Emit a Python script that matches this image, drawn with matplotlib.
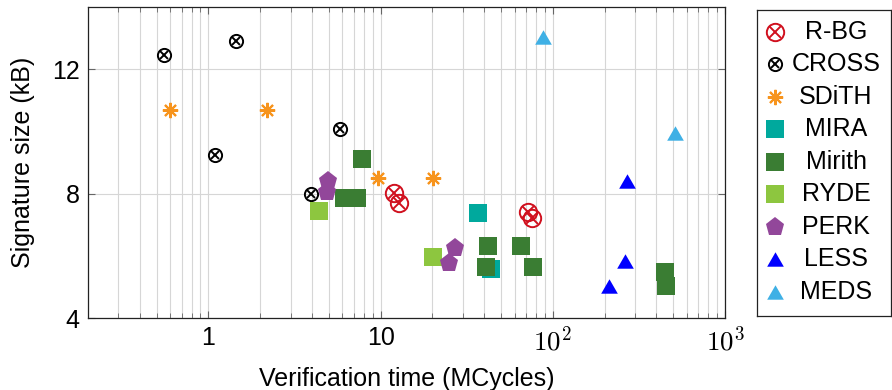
import matplotlib
matplotlib.use("Agg")
import matplotlib.pyplot as plt
from matplotlib.ticker import LogLocator, NullFormatter, FixedLocator
import numpy as np

plt.rcParams['font.family'] = ['Liberation Sans', 'DejaVu Sans']
plt.rcParams['mathtext.fontset'] = 'cm'

# ---- data ----
names = ["R-BG", "CROSS", "SDiTH", "MIRA", "Mirith", "RYDE", "PERK", "LESS", "MEDS"]
rbg_x = [12.0, 12.8, 71.9, 75.3]
rbg_y = [8.01, 7.69, 7.42, 7.21]
cross_x = [0.551, 1.45, 1.098, 5.82, 3.96]
cross_y = [12.47, 12.92, 9.23, 10.07, 7.98]
sdith_x = [0.60, 2.19, 9.71, 20.1]
sdith_y = [10.69, 10.69, 8.50, 8.50]
mira_x = [36.6, 43.7]
mira_y = [7.37, 5.58]
mirith_x = [6.13, 7.3, 7.75, 41.8, 40.9, 65.2, 76.3, 446, 452]
mirith_y = [7.86, 7.86, 9.11, 6.30, 5.65, 6.30, 5.65, 5.49, 5.04]
ryde_x = [4.4, 20.1]
ryde_y = [7.44, 5.95]
perk_x = [4.88, 4.98, 27.0, 25.1]
perk_y = [8.05, 8.39, 6.26, 5.76]
less_x = [270, 261, 212]
less_y = [8.41, 5.84, 5.04]
meds_x = [87.2, 512]
meds_y = [13.04, 9.95]

xs = [rbg_x, cross_x, sdith_x, mira_x, mirith_x, ryde_x, perk_x, less_x, meds_x]
ys = [rbg_y, cross_y, sdith_y, mira_y, mirith_y, ryde_y, perk_y, less_y, meds_y]

x_ticks = [1, 10, 100, 1000]
x_ticklabels = ['1', '10', r'$10^2$', r'$10^3$']
y_ticks = [4, 8, 12]

FS = 18

# ---- styles ----
tri = [(-1, -0.866), (1, -0.866), (0, 0.866)]
styles = [
    dict(kind='otimes', color='#d0101e', ms=12.5, lw=1.4),
    dict(kind='otimes', color='black', ms=9.5, lw=1.4),
    dict(kind='plain', marker=(8, 2, 0), color='#f7941d', ms=11, mew=1.5),
    dict(kind='plain', marker='s', color='#00a99d', ms=12.5, mew=0),
    dict(kind='plain', marker='s', color='#3a7d33', ms=12.5, mew=0),
    dict(kind='plain', marker='s', color='#8dc63f', ms=12.5, mew=0),
    dict(kind='plain', marker='p', color='#92479a', ms=14, mew=0),
    dict(kind='plain', marker=tri, color='#0000ff', ms=12, mew=0),
    dict(kind='plain', marker=tri, color='#3fb0e5', ms=12, mew=0),
]

def draw(axis, x, y, st, **kw):
    if st['kind'] == 'otimes':
        axis.plot(x, y, ls='none', marker='o', mfc='none', mec=st['color'],
                  ms=st['ms'], mew=st['lw'], **kw)
        axis.plot(x, y, ls='none', marker='x', mec=st['color'],
                  ms=st['ms'] * 0.68, mew=st['lw'], **kw)
    else:
        axis.plot(x, y, ls='none', marker=st['marker'], color=st['color'],
                  mec=st['color'], ms=st['ms'], mew=st['mew'], **kw)

W, H = 892, 390
fig = plt.figure(figsize=(W / 100, H / 100), dpi=100)
L, R, T, B = 88, 725, 7, 318
ax = fig.add_axes([L / W, 1 - B / H, (R - L) / W, (B - T) / H])
ax.set_xscale('log')
ax.set_xlim(0.2, 1000)
ax.set_ylim(4, 14)
ax.xaxis.set_major_locator(FixedLocator(x_ticks))
ax.set_xticklabels(x_ticklabels)
ax.xaxis.set_minor_locator(LogLocator(base=10, subs=np.arange(2, 10)))
ax.xaxis.set_minor_formatter(NullFormatter())
ax.set_yticks(y_ticks)
ax.grid(True, which='both', axis='x', color='#d6d6d6', lw=0.8)
ax.grid(True, which='major', axis='y', color='#d6d6d6', lw=0.8)
ax.set_axisbelow(True)
ax.tick_params(which='both', direction='in', top=True, right=True,
               color='#666666', labelsize=FS)
ax.tick_params(which='major', length=5, pad=6)
ax.tick_params(which='minor', length=3.5)
for lbl in ax.get_xticklabels()[2:]:
    lbl.set_fontsize(FS + 1.5)
for s in ax.spines.values():
    s.set_linewidth(0.9)
    s.set_color('#222222')

for x, y, st in zip(xs, ys, styles):
    draw(ax, x, y, st, zorder=3)

ax.set_xlabel('Verification time (MCycles)', fontsize=FS, labelpad=8)
ax.set_ylabel('Signature size (kB)', fontsize=FS, labelpad=12)

# ---- legend ----
LL, LR, LT, LB = 757, 891, 10, 316
lax = fig.add_axes([LL / W, 1 - LB / H, (LR - LL) / W, (LB - LT) / H])
lax.set_xlim(LL, LR)
lax.set_ylim(LB, LT)
lax.set_xticks([])
lax.set_yticks([])
for s in lax.spines.values():
    s.set_linewidth(0.9)
    s.set_color('#222222')
for i, (name, st) in enumerate(zip(names, styles)):
    yy = 31.7 + 32.5 * i
    draw(lax, [775], [yy], st)
    lax.text(836, yy, name, ha='center', va='center', fontsize=FS)

fig.savefig('out.png', dpi=100)
